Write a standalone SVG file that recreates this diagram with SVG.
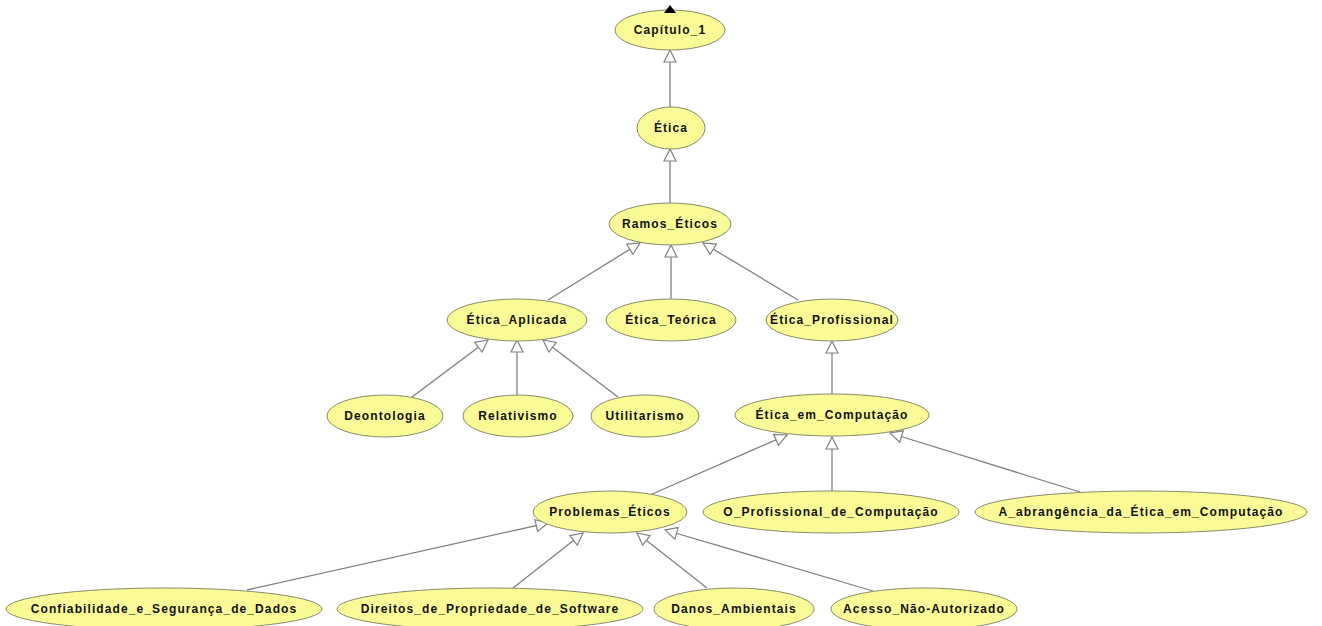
<svg xmlns="http://www.w3.org/2000/svg" width="1322" height="626" viewBox="0 0 1322 626">
<style>
.n ellipse{fill:#fafa96;stroke:#8a8a6a;stroke-width:1}
.n text{font-family:"Liberation Sans",Arial,sans-serif;font-size:12px;font-weight:bold;letter-spacing:1.1px;fill:#111;text-anchor:middle}
.e line{stroke:#808080;stroke-width:1.3;marker-end:url(#tri)}
</style>
<defs>
<marker id="tri" markerUnits="userSpaceOnUse" markerWidth="14" markerHeight="14" refX="12" refY="6" orient="auto" viewBox="-1 -1 14 14">
<path d="M0,0 L12,6 L0,12 Z" fill="#fff" stroke="#808080" stroke-width="1.2"/>
</marker>
</defs>
<rect width="1322" height="626" fill="#fff"/>
<g id="connectors" class="e">
<line x1="670" y1="107" x2="670" y2="50"/>
<line x1="670" y1="203" x2="670" y2="149"/>
<line x1="548" y1="300" x2="640" y2="243"/>
<line x1="671" y1="299" x2="671" y2="245"/>
<line x1="798" y1="300" x2="703" y2="243"/>
<line x1="412" y1="397" x2="488" y2="340"/>
<line x1="517" y1="395" x2="517" y2="340"/>
<line x1="618" y1="397" x2="543" y2="340"/>
<line x1="832" y1="394" x2="832" y2="341"/>
<line x1="650" y1="495" x2="787" y2="435"/>
<line x1="832" y1="491" x2="832" y2="437"/>
<line x1="1080" y1="492" x2="890" y2="433"/>
<line x1="247" y1="590" x2="548" y2="523"/>
<line x1="513" y1="588" x2="583" y2="533"/>
<line x1="707" y1="588" x2="637" y2="533"/>
<line x1="873" y1="591" x2="665" y2="530"/>
</g>
<g id="Capitulo_1" class="n"><ellipse cx="670" cy="30" rx="55" ry="20"/><text x="670" y="34">Capítulo_1</text></g>
<g id="Etica" class="n"><ellipse cx="671" cy="128" rx="34" ry="21"/><text x="671" y="132">Ética</text></g>
<g id="Ramos_Eticos" class="n"><ellipse cx="670" cy="224" rx="61" ry="21"/><text x="670" y="228">Ramos_Éticos</text></g>
<g id="Etica_Aplicada" class="n"><ellipse cx="517" cy="320" rx="70" ry="21"/><text x="517" y="324">Ética_Aplicada</text></g>
<g id="Etica_Teorica" class="n"><ellipse cx="671" cy="320" rx="65" ry="21"/><text x="671" y="324">Ética_Teórica</text></g>
<g id="Etica_Profissional" class="n"><ellipse cx="832" cy="320" rx="66" ry="21"/><text x="832" y="324">Ética_Profissional</text></g>
<g id="Deontologia" class="n"><ellipse cx="385" cy="416" rx="58" ry="21"/><text x="385" y="420">Deontologia</text></g>
<g id="Relativismo" class="n"><ellipse cx="518" cy="416" rx="55" ry="21"/><text x="518" y="420">Relativismo</text></g>
<g id="Utilitarismo" class="n"><ellipse cx="645" cy="416" rx="54" ry="21"/><text x="645" y="420">Utilitarismo</text></g>
<g id="Etica_em_Computacao" class="n"><ellipse cx="832" cy="415" rx="97" ry="21"/><text x="832" y="419">Ética_em_Computação</text></g>
<g id="Problemas_Eticos" class="n"><ellipse cx="610" cy="512" rx="77" ry="21"/><text x="610" y="516">Problemas_Éticos</text></g>
<g id="O_Profissional_de_Computacao" class="n"><ellipse cx="831" cy="512" rx="128" ry="21"/><text x="831" y="516">O_Profissional_de_Computação</text></g>
<g id="A_abrangencia" class="n"><ellipse cx="1141" cy="512" rx="166" ry="21"/><text x="1141" y="516">A_abrangência_da_Ética_em_Computação</text></g>
<g id="Confiabilidade" class="n"><ellipse cx="164" cy="609" rx="158" ry="21"/><text x="164" y="613">Confiabilidade_e_Segurança_de_Dados</text></g>
<g id="Direitos" class="n"><ellipse cx="490" cy="609" rx="153" ry="21"/><text x="490" y="613">Direitos_de_Propriedade_de_Software</text></g>
<g id="Danos_Ambientais" class="n"><ellipse cx="734" cy="609" rx="80" ry="21"/><text x="734" y="613">Danos_Ambientais</text></g>
<g id="Acesso_Nao_Autorizado" class="n"><ellipse cx="924" cy="609" rx="93" ry="21"/><text x="924" y="613">Acesso_Não-Autorizado</text></g>
<polygon points="670,5 664,13 676,13" fill="#000"/>
</svg>
